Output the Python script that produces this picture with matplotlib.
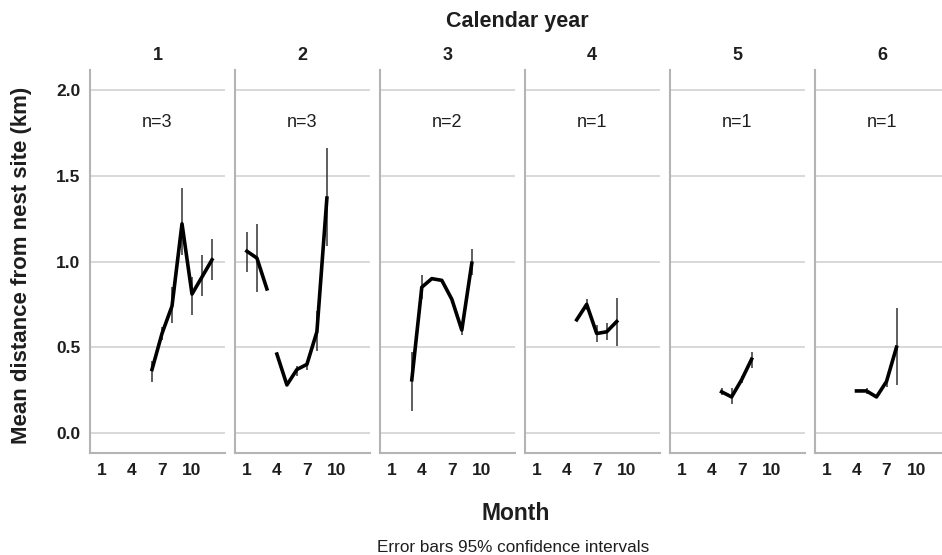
import numpy as np
import matplotlib
matplotlib.use('Agg')
from matplotlib import pyplot as plt

plt.rcParams['font.family'] = ['Liberation Sans', 'DejaVu Sans']

# Valores (media e IC 95%) por ano civil
anos = ['1', '2', '3', '4', '5', '6']
amostras = ['n=3', 'n=3', 'n=2', 'n=1', 'n=1', 'n=1']

meses = [
    [6, 7, 8, 9, 10, 11, 12],
    [1, 2, 3, np.nan, 4, 5, 6, 7, 8, 9],
    [3, 4, 5, 6, 7, 8, 9],
    [5, 6, 7, 8, 9],
    [5, 6, 7, 8],
    [4, 5, 6, 7, 8],
]
medias = [
    [0.37, 0.58, 0.74, 1.22, 0.81, 0.91, 1.01],
    [1.06, 1.02, 0.84, np.nan, 0.46, 0.28, 0.37, 0.40, 0.59, 1.37],
    [0.31, 0.85, 0.90, 0.89, 0.78, 0.60, 0.99],
    [0.66, 0.75, 0.58, 0.59, 0.65],
    [0.24, 0.21, 0.31, 0.43],
    [0.245, 0.245, 0.21, 0.30, 0.50],
]
ic_inf = [
    [0.30, 0.54, 0.64, 1.04, 0.69, 0.80, 0.89],
    [0.94, 0.82, 0.84, np.nan, 0.46, 0.28, 0.33, 0.37, 0.48, 1.09],
    [0.13, 0.78, 0.90, 0.89, 0.78, 0.57, 0.92],
    [0.66, 0.72, 0.53, 0.54, 0.51],
    [0.22, 0.17, 0.29, 0.38],
    [0.245, 0.23, 0.21, 0.27, 0.28],
]
ic_sup = [
    [0.42, 0.62, 0.85, 1.43, 0.91, 1.04, 1.13],
    [1.17, 1.22, 0.84, np.nan, 0.46, 0.28, 0.39, 0.42, 0.71, 1.66],
    [0.47, 0.92, 0.90, 0.89, 0.78, 0.62, 1.07],
    [0.66, 0.78, 0.63, 0.64, 0.79],
    [0.26, 0.26, 0.33, 0.47],
    [0.245, 0.26, 0.21, 0.32, 0.73],
]
ticks_y = [0.0, 0.5, 1.0, 1.5, 2.0]
ticks_x = [1, 4, 7, 10]

W, H = 942, 555
fig = plt.figure(figsize=(W / 100, H / 100), dpi=100)

esq0 = 90
passo = 144.9
larg = 135
base = 453
alt = 383
cinza = '#b4b4b4'
texto = '#1e1e1e'

for i in range(6):
    ax = fig.add_axes([(esq0 + i * passo) / W, (H - base) / H, larg / W, alt / H])
    x = np.array(meses[i], dtype=float)
    m = np.array(medias[i], dtype=float)
    lo = np.array(ic_inf[i], dtype=float)
    hi = np.array(ic_sup[i], dtype=float)

    ax.vlines(x, lo, hi, color='#333333', lw=1.1, zorder=3)
    ax.plot(x, m, color='black', lw=2.6, zorder=4)

    ax.set_xlim(-0.2, 13.3)
    ax.set_ylim(-0.117, 2.117)
    ax.set_yticks(ticks_y)
    ax.set_xticks(ticks_x)
    ax.grid(axis='y', color='#d6d6d6', lw=1.3)
    ax.set_axisbelow(True)
    for s in ['top', 'right']:
        ax.spines[s].set_visible(False)
    for s in ['left', 'bottom']:
        ax.spines[s].set_color(cinza)
        ax.spines[s].set_linewidth(1.5)
    ax.tick_params(length=0, labelsize=12.5, pad=7)
    for lab in ax.get_xticklabels() + ax.get_yticklabels():
        lab.set_fontweight('bold')
        lab.set_color(texto)
    if i > 0:
        ax.set_yticklabels([])

    ax.text(0.5, 1.015, anos[i], transform=ax.transAxes, ha='center', va='bottom',
            fontsize=13, fontweight='bold', color=texto)
    ax.text(0.5, 0.862, amostras[i], transform=ax.transAxes, ha='center', va='center',
            fontsize=13, color=texto)

fig.text(517 / W, 1 - 22 / H, 'Calendar year', ha='center', va='center',
         fontsize=15.5, fontweight='bold', color=texto)
fig.text(516 / W, 1 - 513 / H, 'Month', ha='center', va='center',
         fontsize=16.5, fontweight='bold', color=texto)
fig.text(513 / W, 1 - 548 / H, 'Error bars 95% confidence intervals', ha='center',
         va='center', fontsize=12.3, color=texto)
fig.text(22 / W, 1 - 265 / H, 'Mean distance from nest site (km)', ha='center',
         va='center', rotation=90, fontsize=16, fontweight='bold', color=texto)

fig.savefig('out.png', dpi=100, facecolor='white')
